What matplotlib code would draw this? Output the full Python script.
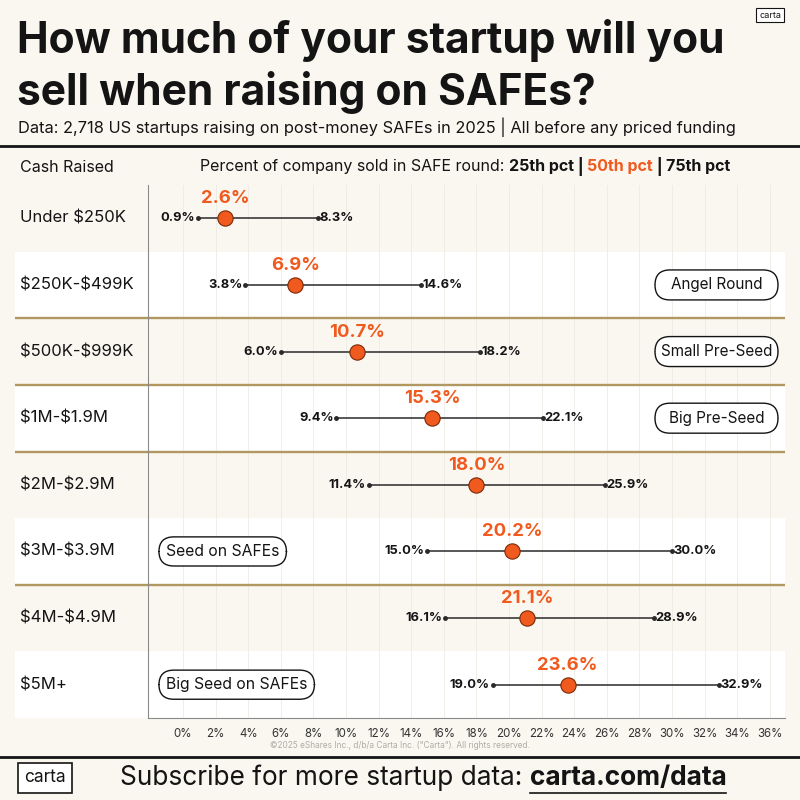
import numpy as np
import matplotlib
matplotlib.use("Agg")
import matplotlib.pyplot as plt
from matplotlib.patches import FancyBboxPatch, Rectangle
from matplotlib.transforms import blended_transform_factory

plt.rcParams['font.family'] = ['Inter', 'DejaVu Sans']
plt.rcParams['text.parse_math'] = False

# data
cats = ["Under $250K", "$250K-$499K", "$500K-$999K", "$1M-$1.9M",
        "$2M-$2.9M", "$3M-$3.9M", "$4M-$4.9M", "$5M+"]
p25 = [0.9, 3.8, 6.0, 9.4, 11.4, 15.0, 16.1, 19.0]
p50 = [2.6, 6.9, 10.7, 15.3, 18.0, 20.2, 21.1, 23.6]
p75 = [8.3, 14.6, 18.2, 22.1, 25.9, 30.0, 28.9, 32.9]
ticks = list(range(0, 37, 2))
stages = ["", "Angel Round", "Small Pre-Seed", "Big Pre-Seed", "",
          "Seed on SAFEs", "", "Big Seed on SAFEs"]
stage_side = ["", "right", "right", "right", "", "left", "", "left"]
group_breaks = [1.5, 2.5, 3.5, 5.5]

BG = "#faf7f1"
ORANGE = "#f05a1e"
GOLD = "#b09860"
INK = "#141414"

fig = plt.figure(figsize=(8, 8), dpi=100, facecolor=BG)

# full-figure pixel axes for decoration
bg = fig.add_axes([0, 0, 1, 1], zorder=0)
bg.set_xlim(0, 800)
bg.set_ylim(800, 0)
bg.axis("off")
bg.set_facecolor(BG)

# chart axes
L, R, T, B = 148, 785, 185, 718
ax = fig.add_axes([L / 800, 1 - B / 800, (R - L) / 800, (B - T) / 800], zorder=1)
ax.patch.set_alpha(0)
px_per_pct = 16.3
ax.set_xlim(-(183 - L) / px_per_pct, (R - 183) / px_per_pct)
ax.set_ylim(len(cats) - 0.5, -0.5)

# row bands (x in figure pixels, y in data rows)
band_tr = blended_transform_factory(bg.transData, ax.transData)
for i in range(len(cats)):
    if i % 2 == 1:
        ax.add_patch(Rectangle((15, i - 0.5), 770, 1, transform=band_tr,
                               facecolor="white", edgecolor="none",
                               zorder=0, clip_on=False))
for yb in group_breaks:
    ax.plot([15, 785], [yb, yb], transform=band_tr, color=GOLD, lw=1.7,
            clip_on=False, zorder=2, solid_capstyle="butt")

# grid
for t in ticks:
    ax.axvline(t, color="#eeebe4", lw=0.6, zorder=0.5)

for s in ["top", "right"]:
    ax.spines[s].set_visible(False)
ax.spines["left"].set_color("#8a8a8a")
ax.spines["bottom"].set_color("#8a8a8a")
ax.spines["left"].set_linewidth(0.8)
ax.spines["bottom"].set_linewidth(0.8)
ax.set_xticks(ticks)
ax.set_xticklabels([f"{t}%" for t in ticks], fontsize=8.3, color="#333333")
ax.tick_params(axis="x", length=0, pad=7)
ax.set_yticks([])

y = np.arange(len(cats))
ax.hlines(y, p25, p75, color="#2a2a2a", lw=1.1, zorder=3)
ax.plot(p25, y, "o", ms=2.5, color="#2a2a2a", zorder=3)
ax.plot(p75, y, "o", ms=2.5, color="#2a2a2a", zorder=3)
ax.plot(p50, y, "o", ms=11, markerfacecolor=ORANGE,
        markeredgecolor="#7a2a08", markeredgewidth=0.8, zorder=4)

for i in range(len(cats)):
    ax.annotate(f"{p25[i]:.1f}%", (p25[i], i), xytext=(-2, 0),
                textcoords="offset points", ha="right", va="center",
                fontsize=9.3, fontweight="bold", color=INK)
    ax.annotate(f"{p75[i]:.1f}%", (p75[i], i), xytext=(1, 0),
                textcoords="offset points", ha="left", va="center",
                fontsize=9.3, fontweight="bold", color=INK)
    ax.annotate(f"{p50[i]:.1f}%", (p50[i], i), xytext=(0, 14),
                textcoords="offset points", ha="center", va="center",
                fontsize=13.3, fontweight="bold", color=ORANGE)
    ax.text(20, i, cats[i], transform=band_tr, fontsize=12, color=INK,
            va="center", ha="left", clip_on=False, zorder=6)

# stage pills
for i, (lab, side) in enumerate(zip(stages, stage_side)):
    if not lab:
        continue
    if side == "right":
        ax.add_patch(FancyBboxPatch((655, i - 0.225), 123, 0.45,
                                    boxstyle="round,pad=0,rounding_size=15",
                                    transform=band_tr, facecolor="white",
                                    edgecolor=INK, lw=1.0, clip_on=False,
                                    zorder=5, mutation_aspect=1 / 66.6))
        ax.text(716.5, i, lab, transform=band_tr, ha="center", va="center",
                fontsize=11, color=INK, zorder=6, clip_on=False)
    else:
        ax.text(166, i, lab, transform=band_tr, ha="left", va="center",
                fontsize=11.3, color=INK, zorder=6, clip_on=False,
                bbox=dict(boxstyle="round,pad=0.45,rounding_size=0.95",
                          facecolor="white", edgecolor=INK, lw=1.0))

# title block
bg.text(17, 40, "How much of your startup will you", fontsize=30.6,
        fontweight="bold", color=INK, va="center", ha="left")
bg.text(17, 93, "sell when raising on SAFEs?", fontsize=30.6,
        fontweight="bold", color=INK, va="center", ha="left")
bg.text(18, 127, "Data: 2,718 US startups raising on post-money SAFEs in 2025 | "
        "All before any priced funding", fontsize=11.8, color=INK,
        va="center", ha="left")
bg.plot([0, 800], [146, 146], color=INK, lw=2)
bg.text(770, 15, "carta", fontsize=6.5, color=INK, ha="center", va="center",
        bbox=dict(boxstyle="square,pad=0.3", facecolor="white",
                  edgecolor=INK, lw=0.8))

# header row
bg.text(20, 167, "Cash Raised", fontsize=11.5, color=INK, va="center")
fig.canvas.draw()
rend = fig.canvas.get_renderer()
xpos = 200
pieces = [("Percent of company sold in SAFE round: ", "normal", INK),
          ("25th pct", "bold", INK), (" | ", "bold", INK),
          ("50th pct", "bold", ORANGE), (" | ", "bold", INK),
          ("75th pct", "bold", INK)]
for txt, w, c in pieces:
    t = bg.text(xpos, 167, txt, fontsize=11.5, fontweight=w, color=c,
                va="center", ha="left")
    bb = t.get_window_extent(renderer=rend)
    xpos += bb.width

# footer
bg.text(400, 746, "\u00a92025 eShares Inc., d/b/a Carta Inc. (\"Carta\"). All rights reserved.",
        fontsize=6, color="#b0aca4", ha="center", va="center")
bg.plot([0, 800], [757, 757], color=INK, lw=2)
bg.text(45, 778, "carta", fontsize=12.5, color=INK, ha="center", va="center",
        bbox=dict(boxstyle="square,pad=0.35", facecolor="white",
                  edgecolor=INK, lw=1.2))
t1 = bg.text(120, 778, "Subscribe for more startup data: ", fontsize=18.9,
             color=INK, va="center", ha="left")
bb1 = t1.get_window_extent(renderer=rend)
t2 = bg.text(120 + bb1.width, 778, "carta.com/data", fontsize=18.9,
             fontweight="bold", color=INK, va="center", ha="left")
bb2 = t2.get_window_extent(renderer=rend)
bg.plot([120 + bb1.width, 120 + bb1.width + bb2.width], [793, 793],
        color=INK, lw=1.2)

fig.savefig("out.png", dpi=100, facecolor=BG)
